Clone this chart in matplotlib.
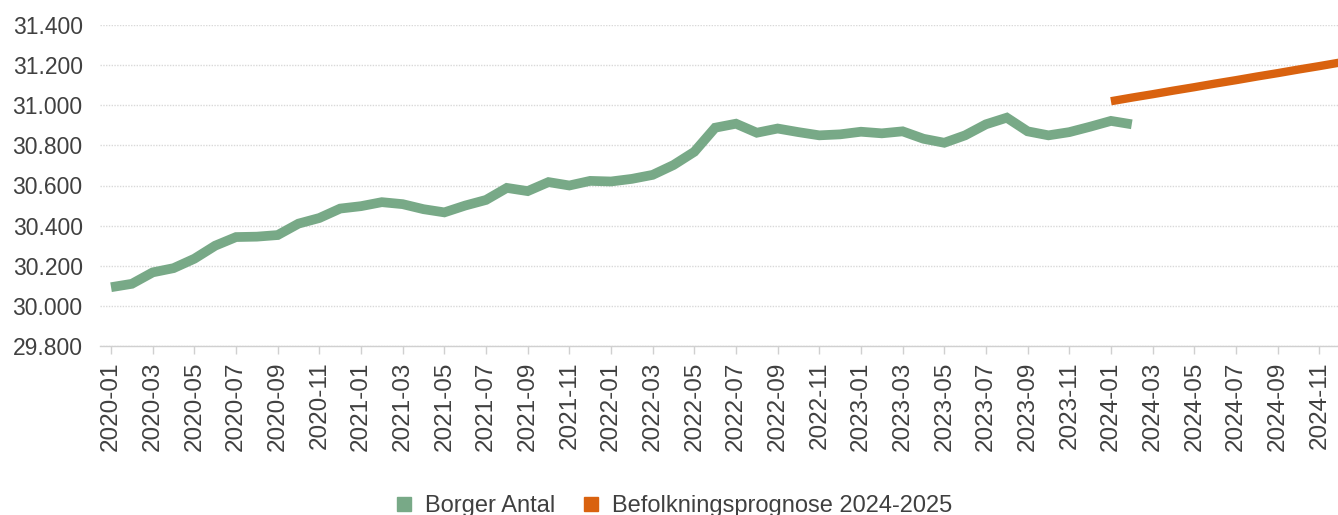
import matplotlib
matplotlib.use("Agg")
import matplotlib.pyplot as plt
from matplotlib.lines import Line2D
from matplotlib.ticker import FuncFormatter

plt.rcParams["font.family"] = ["Liberation Sans", "DejaVu Sans"]

# Months shown on the x axis (2020-01 .. 2024-12)
months = [f"{y}-{m:02d}" for y in range(2020, 2025) for m in range(1, 13)]

# Borger Antal, 2020-01 .. 2024-02
borger = [
    30093, 30110, 30167, 30188, 30235, 30300, 30343, 30345, 30353, 30410, 30438, 30485,
    30497, 30517, 30507, 30482, 30466, 30500, 30528, 30588, 30572, 30617, 30600, 30623,
    30620, 30633, 30653, 30702, 30768, 30888, 30908, 30863, 30884, 30866, 30850, 30855,
    30868, 30860, 30870, 30833, 30813, 30850, 30905, 30938, 30870, 30850, 30866, 30893,
    30922, 30905,
]

# Befolkningsprognose 2024-2025, 2024-01 .. 2024-12
prognose = [31020, 31038, 31055, 31073, 31090, 31108, 31125, 31143, 31160, 31178, 31195, 31213]

GREEN = "#78a987"
ORANGE = "#d9620f"
TEXT = "#404040"

fig = plt.figure(figsize=(13.38, 5.15), dpi=100)
ax = fig.add_axes([100 / 1338, 1 - 346 / 515, 1238 / 1338, 321 / 515])

x_b = list(range(len(borger)))
x_p = [48 + i for i in range(len(prognose))]
ax.plot(x_b, borger, color=GREEN, lw=7.0, solid_capstyle="butt", solid_joinstyle="miter")
ax.plot(x_p, prognose, color=ORANGE, lw=6.0, solid_capstyle="butt")

ax.set_ylim(29800, 31400)
ax.set_yticks(range(29800, 31401, 200))
ax.yaxis.set_major_formatter(FuncFormatter(lambda v, p: f"{int(v):,}".replace(",", ".")))
ax.set_xlim(-0.53, 58.9)
ax.set_xticks(range(0, len(months), 2))
ax.set_xticklabels(months[::2], rotation=90)

ax.grid(axis="y", color="#d9d9d9", linestyle=(0, (1, 1)), linewidth=1)
ax.set_axisbelow(True)
for side in ["top", "right", "left"]:
    ax.spines[side].set_visible(False)
ax.spines["bottom"].set_color("#d0d0d0")
ax.spines["bottom"].set_linewidth(1)

ax.tick_params(axis="x", colors="#d0d0d0", length=6, width=1, labelcolor=TEXT,
               labelsize=17.5, pad=5)
ax.tick_params(axis="y", length=0, labelcolor=TEXT, labelsize=16.5, pad=12.5)

handles = [
    Line2D([], [], marker="s", linestyle="none", markersize=10.5, color=GREEN, label="Borger Antal"),
    Line2D([], [], marker="s", linestyle="none", markersize=10.5, color=ORANGE,
           label="Befolkningsprognose 2024-2025"),
]
fig.legend(handles=handles, loc="center", bbox_to_anchor=(672 / 1338, 1 - 506 / 515),
           ncol=2, frameon=False, fontsize=17, labelcolor=TEXT, borderpad=0,
           handletextpad=0.4, columnspacing=1.0, handlelength=1.0)

fig.savefig("out.png", dpi=100)
